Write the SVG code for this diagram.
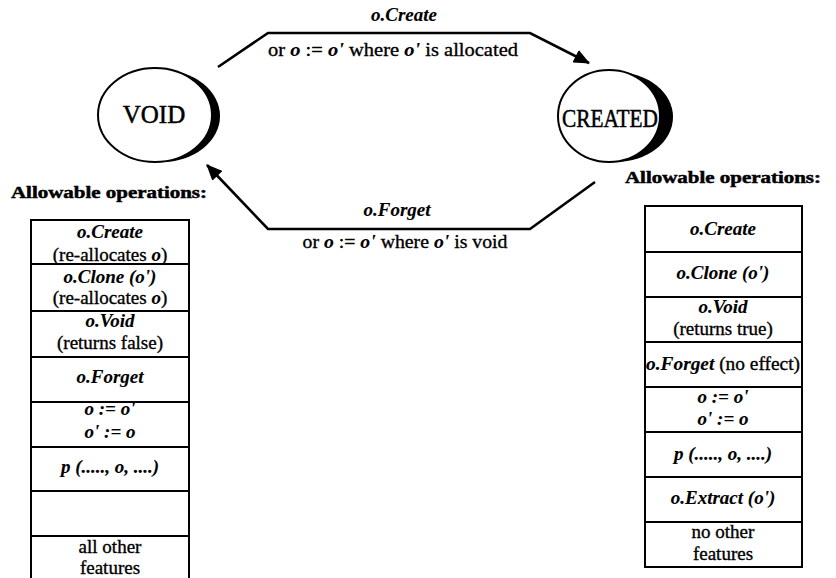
<svg xmlns="http://www.w3.org/2000/svg" width="836" height="578" viewBox="0 0 836 578">
<style>
text{font-family:"Liberation Serif","DejaVu Serif","Times New Roman",serif;fill:#000;stroke:#000;stroke-width:0.35}
.t{font-size:19px;text-anchor:middle}
.i{font-style:italic;font-weight:bold;stroke-width:0.1}
.h{font-size:17px;font-weight:bold;stroke-width:0.5}
.st{font-size:25px;text-anchor:middle;stroke-width:0.5}
.cell{fill:#fff;stroke:#000;stroke-width:2}
.edge{fill:none;stroke:#000;stroke-width:2.6}
.ring{fill:#fff;stroke:#000;stroke-width:2}
</style>
<defs>
<marker id="ah" viewBox="0 0 16 14" refX="15" refY="7" markerWidth="16" markerHeight="14" markerUnits="userSpaceOnUse" orient="auto">
<path d="M0,0 L16,7 L0,14 Z" fill="#000"/>
</marker>
</defs>
<rect width="836" height="578" fill="#fff"/>

<g id="connectors">
<path class="edge" d="M218,67 L268,33 L530,33 L589,63" marker-end="url(#ah)"/>
<text class="t"><tspan x="404" y="21" class="i">o.Create</tspan></text>
<text class="t" x="393" y="56" textLength="250" lengthAdjust="spacingAndGlyphs">or <tspan class="i">o</tspan> := <tspan class="i">o'</tspan> where <tspan class="i">o'</tspan> is allocated</text>
<path class="edge" d="M595,182 L530,229 L268,229 L207,165" marker-end="url(#ah)"/>
<text class="t"><tspan x="397" y="216" class="i">o.Forget</tspan></text>
<text class="t" x="405" y="248" textLength="205" lengthAdjust="spacingAndGlyphs">or <tspan class="i">o</tspan> := <tspan class="i">o'</tspan> where <tspan class="i">o'</tspan> is void</text>
</g>

<g id="void">
<ellipse cx="162" cy="116" rx="58" ry="46"/>
<ellipse class="ring" cx="155" cy="115" rx="57" ry="47"/>
<text class="st" x="154" y="123">VOID</text>
</g>

<g id="created">
<ellipse cx="616" cy="117" rx="57" ry="45"/>
<ellipse class="ring" cx="609" cy="116" rx="51" ry="46"/>
<text class="st" x="610" y="127" textLength="96" lengthAdjust="spacingAndGlyphs">CREATED</text>
</g>

<g id="void-ops">
<text class="h" x="11" y="198" textLength="196" lengthAdjust="spacingAndGlyphs">Allowable operations:</text>
<rect class="cell" x="31" y="220" width="158" height="44"/>
<rect class="cell" x="31" y="264" width="158" height="47"/>
<rect class="cell" x="31" y="311" width="158" height="46"/>
<rect class="cell" x="31" y="357" width="158" height="45"/>
<rect class="cell" x="31" y="402" width="158" height="45"/>
<rect class="cell" x="31" y="447" width="158" height="44"/>
<rect class="cell" x="31" y="491" width="158" height="45"/>
<rect class="cell" x="31" y="536" width="158" height="50"/>
<text class="t i" x="110" y="238">o.Create</text>
<text class="t" x="110" y="261">(re-allocates <tspan class="i">o</tspan>)</text>
<text class="t i" x="110" y="283">o.Clone (o')</text>
<text class="t" x="110" y="304">(re-allocates <tspan class="i">o</tspan>)</text>
<text class="t i" x="110" y="327">o.Void</text>
<text class="t" x="110" y="349">(returns false)</text>
<text class="t i" x="110" y="383">o.Forget</text>
<text class="t i" x="110" y="415">o := o'</text>
<text class="t i" x="110" y="438">o' := o</text>
<text class="t i" x="110" y="473">p (....., o, ....)</text>
<text class="t" x="110" y="553">all other</text>
<text class="t" x="110" y="574">features</text>
</g>

<g id="created-ops">
<text class="h" x="625" y="183" textLength="196" lengthAdjust="spacingAndGlyphs">Allowable operations:</text>
<rect class="cell" x="645" y="206" width="157" height="46"/>
<rect class="cell" x="645" y="252" width="157" height="45"/>
<rect class="cell" x="645" y="297" width="157" height="45"/>
<rect class="cell" x="645" y="342" width="157" height="45"/>
<rect class="cell" x="645" y="387" width="157" height="45"/>
<rect class="cell" x="645" y="432" width="157" height="45"/>
<rect class="cell" x="645" y="477" width="157" height="45"/>
<rect class="cell" x="645" y="522" width="157" height="45"/>
<text class="t i" x="723" y="235">o.Create</text>
<text class="t i" x="723" y="279">o.Clone (o')</text>
<text class="t i" x="723" y="313">o.Void</text>
<text class="t" x="723" y="335">(returns true)</text>
<text class="t" x="723" y="370" textLength="154" lengthAdjust="spacingAndGlyphs"><tspan class="i">o.Forget</tspan> (no effect)</text>
<text class="t i" x="723" y="403">o := o'</text>
<text class="t i" x="723" y="425">o' := o</text>
<text class="t i" x="723" y="460">p (....., o, ....)</text>
<text class="t i" x="723" y="504">o.Extract (o')</text>
<text class="t" x="723" y="538">no other</text>
<text class="t" x="723" y="560">features</text>
</g>
</svg>
